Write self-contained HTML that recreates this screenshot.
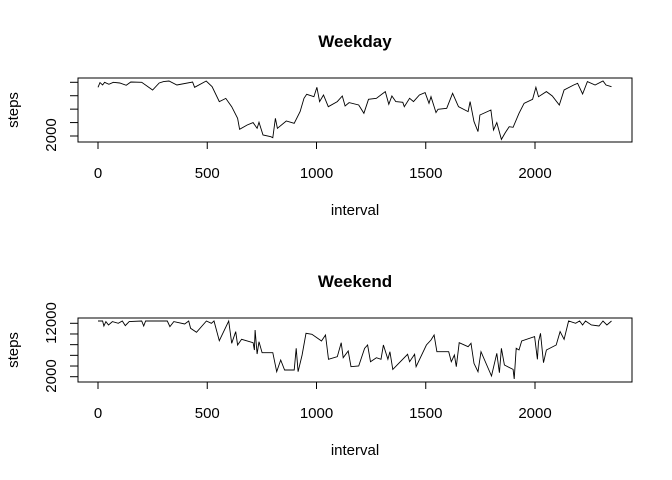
<!DOCTYPE html>
<html><head><meta charset="utf-8"><style>
body{margin:0;background:#fff}
svg{display:block}
text{font-family:"Liberation Sans",Arial,sans-serif;fill:#000}
</style></head><body>
<svg id="c" width="672" height="480" viewBox="0 0 672 480"></svg>
<script>
const xTicks=[0,500,1000,1500,2000];
const wdIntervals=[0,9,21,30,50,70,100,129,150,200,250,280,300,325,361,433,442,495,522,555,585,612,639,648,683,710,728,737,755,791,800,812,821,862,898,925,943,955,988,1002,1014,1032,1054,1095,1118,1131,1149,1193,1217,1238,1274,1315,1331,1345,1363,1395,1402,1426,1444,1471,1497,1515,1524,1547,1556,1596,1623,1650,1694,1703,1721,1739,1748,1798,1810,1825,1846,1864,1882,1900,1927,1950,1989,2004,2016,2052,2079,2111,2133,2177,2195,2218,2240,2275,2311,2325,2350];
const wdSteps=[9250,9950,9600,10000,9700,10000,9900,9550,10050,10000,8860,9900,10100,10200,9600,10050,9250,10200,9350,7120,7600,6370,4630,3000,3640,3990,3140,4040,2150,1900,1750,4630,3140,4240,3890,5630,7620,8210,7860,9250,7120,8110,6370,7120,7960,6470,6970,6620,5380,7470,7620,8610,6720,7960,7120,7020,6370,7620,7120,8110,8460,6870,7860,5480,5980,6120,8360,6370,5630,7120,4140,2650,5130,5880,2900,3990,1500,2500,3390,3290,5380,6870,7470,9250,7860,8610,7960,6620,8860,9600,9850,8260,10100,9600,10200,9600,9350];
const weIntervals=[0,21,27,36,48,66,93,111,125,143,200,209,218,317,329,347,397,415,424,451,496,519,531,555,598,612,630,639,657,710,716,719,728,737,751,800,818,836,854,898,907,916,934,952,979,1005,1023,1041,1055,1095,1113,1122,1145,1158,1193,1220,1234,1247,1274,1295,1306,1327,1336,1349,1417,1426,1449,1456,1503,1524,1538,1551,1605,1617,1631,1640,1653,1694,1707,1721,1739,1753,1801,1825,1837,1846,1860,1900,1905,1914,1927,1939,1998,2011,2016,2025,2039,2052,2097,2115,2133,2154,2186,2204,2218,2231,2258,2293,2311,2329,2350];
const weSteps=[12440,12440,11500,12310,11690,12310,12000,12440,11560,12310,12440,11500,12440,12440,11375,12310,11875,12440,11060,10310,12440,12000,12440,8750,12440,8250,10440,7940,9000,8375,7000,10750,6250,8560,6500,6500,2940,5125,3250,3250,7310,2940,6060,10125,9940,9190,8690,9810,5250,5750,8375,5560,6810,3875,4000,7310,7940,4810,5560,5250,7940,5250,6690,3375,6190,4810,6190,3875,7940,8875,9810,6690,6690,4810,6060,3875,8375,7625,8250,4500,2940,6690,2125,6375,2750,7310,4190,3375,1560,7310,7000,8690,9500,5250,8560,10125,4625,7000,7940,10440,9000,12440,12000,12440,11690,12440,11690,11500,12440,11690,12440];

const svg=document.getElementById('c');
const NS='http://www.w3.org/2000/svg';
function mk(tag,attrs,txt){const e=document.createElementNS(NS,tag);for(const k in attrs)e.setAttribute(k,attrs[k]);if(txt!==undefined)e.textContent=txt;svg.appendChild(e);return e;}
const xs=v=>98+v*(535-98)/2000;

function panel(p){
  const ys=v=>p.y0+(v-p.v0)*(p.y1-p.y0)/(p.v1-p.v0);
  let t=mk('text',{x:355,y:p.titleY,'text-anchor':'middle','font-size':17,'font-weight':'bold'},p.title);
  
  
  let b=mk('rect',{x:78,y:p.top,width:554,height:p.bot-p.top,fill:'none',stroke:'#000','stroke-width':1});
  
  
  let ax=mk('line',{x1:xs(0),x2:xs(2000),y1:p.bot,y2:p.bot,stroke:'#000'});
  
  
  xTicks.forEach(v=>{
    let l=mk('line',{x1:xs(v),x2:xs(v),y1:p.bot,y2:p.bot+7,stroke:'#000'});
    
    
    let tx=mk('text',{x:xs(v),y:p.bot+36,'text-anchor':'middle','font-size':15},String(v));
    
    
  });
  let ay=mk('line',{x1:78,x2:78,y1:ys(p.yTicks[0]),y2:ys(p.yTicks[p.yTicks.length-1]),stroke:'#000'});
  
  
  p.yTicks.forEach(v=>{
    let l=mk('line',{x1:70,x2:78,y1:ys(v),y2:ys(v),stroke:'#000'});
    
    
  });
  p.yLabels.forEach(([s,y])=>{
    let tx=mk('text',{x:0,y:0,'text-anchor':'middle','font-size':15,transform:`translate(56,${y}) rotate(-90)`},s);
    
    
  });
  let yl=mk('text',{x:0,y:0,'text-anchor':'middle','font-size':15,transform:`translate(18,${(p.top+p.bot)/2}) rotate(-90)`},'steps');
  
  
  let xl=mk('text',{x:355,y:p.bot+73,'text-anchor':'middle','font-size':15},'interval');
  
  
  const pts=p.xs.map((x,i)=>xs(x).toFixed(1)+','+ys(p.vals[i]).toFixed(1)).join(' ');
  let pl=mk('polyline',{points:pts,fill:'none',stroke:'#000','stroke-width':0.9});
  
  
}
panel({key:'weekday',title:'Weekday',titleY:47,top:78,bot:142,y0:136,v0:2000,y1:82.3,v1:10000,
  yTicks:[2000,4000,6000,8000,10000],yLabels:[['2000',135]],xs:wdIntervals,vals:wdSteps});
panel({key:'weekend',title:'Weekend',titleY:287,top:318,bot:382,y0:376.7,v0:2000,y1:323.3,v1:12000,
  yTicks:[2000,4000,6000,8000,10000,12000],yLabels:[['12000',323],['2000',376]],xs:weIntervals,vals:weSteps});
</script>
</body></html>
